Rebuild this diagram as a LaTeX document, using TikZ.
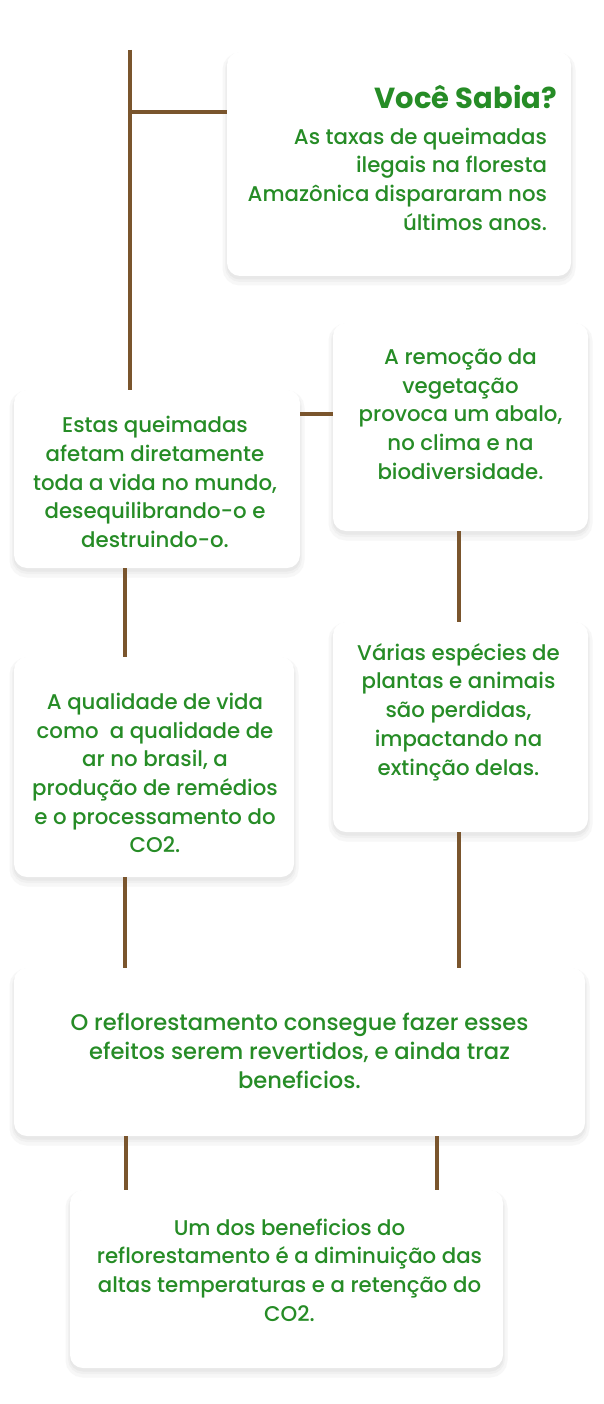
\documentclass[tikz,border=0pt]{standalone}
\usepackage{fontspec}
\setmainfont{Poppins}[UprightFont={* Medium},BoldFont={* Bold}]
\usepackage{tikz}
\usetikzlibrary{calc,positioning,shadows}
\definecolor{leafGreen}{RGB}{38,140,38}
\definecolor{barkBrown}{RGB}{122,85,45}
\tikzset{
  card/.style={rounded corners=13pt,fill=white,inner sep=0pt,
    drop shadow={shadow xshift=0pt,shadow yshift=-5pt,opacity=1,fill=black!3,draw=black!3,line width=9pt},
    drop shadow={shadow xshift=0pt,shadow yshift=-4pt,opacity=1,fill=black!6,draw=black!6,line width=4pt},
    drop shadow={shadow xshift=0pt,shadow yshift=-3pt,opacity=1,fill=black!9,draw=black!9,line width=1pt}},
  cardtext/.style={text=leafGreen,font=\fontsize{21.3}{28.7}\selectfont,align=center,inner sep=0pt},
  trunk/.style={draw=barkBrown,line width=4pt}
}
\begin{document}
\begin{tikzpicture}[x=1pt,y=-1pt]
\fill[white] (0,0) rectangle (603,1404);
\useasboundingbox (0,0) rectangle (603,1404);
\node[card,minimum width=344pt,minimum height=224pt] (sabia) at (399,164) {};
\node[card,minimum width=255pt,minimum height=208pt] (remocao) at (460.5,427) {};
\node[card,minimum width=286pt,minimum height=178pt] (queimadas) at (157,479) {};
\node[card,minimum width=255pt,minimum height=210pt] (especies) at (460.5,727) {};
\node[card,minimum width=280pt,minimum height=220pt] (qualidade) at (154,767) {};
\node[card,minimum width=571pt,minimum height=168pt] (reflorest) at (299.5,1052) {};
\node[card,minimum width=433pt,minimum height=178pt] (beneficio) at (286.5,1279) {};

\node[cardtext,anchor=east,font=\fontsize{29}{32}\selectfont\bfseries] (sabiaTit) at ($(sabia.east)+(-14,-67)$) {Você Sabia?};
\node[cardtext,anchor=east,align=right] (sabiaTxt) at ($(sabia.east)+(-24,15)$)
  {As taxas de queimadas\\ilegais na floresta\\Amazônica dispararam nos\\últimos anos.};
\node[cardtext] (remocaoTxt) at ($(remocao.center)+(0,-13)$)
  {A remoção da\\vegetação\\provoca um abalo,\\no clima e na\\biodiversidade.};
\node[cardtext] (queimadasTxt) at ($(queimadas.center)+(-2,3)$)
  {Estas queimadas\\afetam diretamente\\toda a vida no mundo,\\desequilibrando-o e\\destruindo-o.};
\node[cardtext] (especiesTxt) at ($(especies.center)+(-2,-15)$)
  {Várias espécies de\\plantas e animais\\são perdidas,\\impactando na\\extinção delas.};
\node[cardtext] (qualidadeTxt) at ($(qualidade.center)+(1,6)$)
  {A qualidade de vida\\como\ \ a qualidade de\\ar no brasil, a\\produção de remédios\\e o processamento do\\CO2.};
\node[cardtext,font=\fontsize{22.6}{28.9}\selectfont] (reflorestTxt) at ($(reflorest.center)+(0,-1)$)
  {O reflorestamento consegue fazer esses\\efeitos serem revertidos, e ainda traz\\beneficios.};
\node[cardtext] (beneficioTxt) at ($(beneficio.center)+(3,-9)$)
  {Um dos beneficios do\\reflorestamento é a diminuição das\\altas temperaturas e a retenção do\\CO2.};

\coordinate (top) at (130,50);
\coordinate (fork) at (130,112);
\draw[trunk] (top) -- (top |- queimadas.north);
\draw[trunk] (fork) -- (fork -| sabia.west);
\draw[trunk] ($(queimadas.north east)+(0,24)$) coordinate (mid) -- (mid -| remocao.west);
\draw[trunk] ($(remocao.south)+(-2,0)$) coordinate (rA) -- (rA |- especies.north);
\draw[trunk] ($(queimadas.south west)+(111,0)$) coordinate (lA) -- (lA |- qualidade.north);
\draw[trunk] ($(qualidade.south west)+(111,0)$) coordinate (lB) -- (lB |- reflorest.north);
\draw[trunk] ($(especies.south)+(-2,0)$) coordinate (rB) -- (rB |- reflorest.north);
\draw[trunk] ($(beneficio.north west)+(56,0)$) coordinate (lC) -- (lC |- reflorest.south);
\draw[trunk] ($(beneficio.north east)+(-66,0)$) coordinate (rC) -- (rC |- reflorest.south);
\end{tikzpicture}
\end{document}
